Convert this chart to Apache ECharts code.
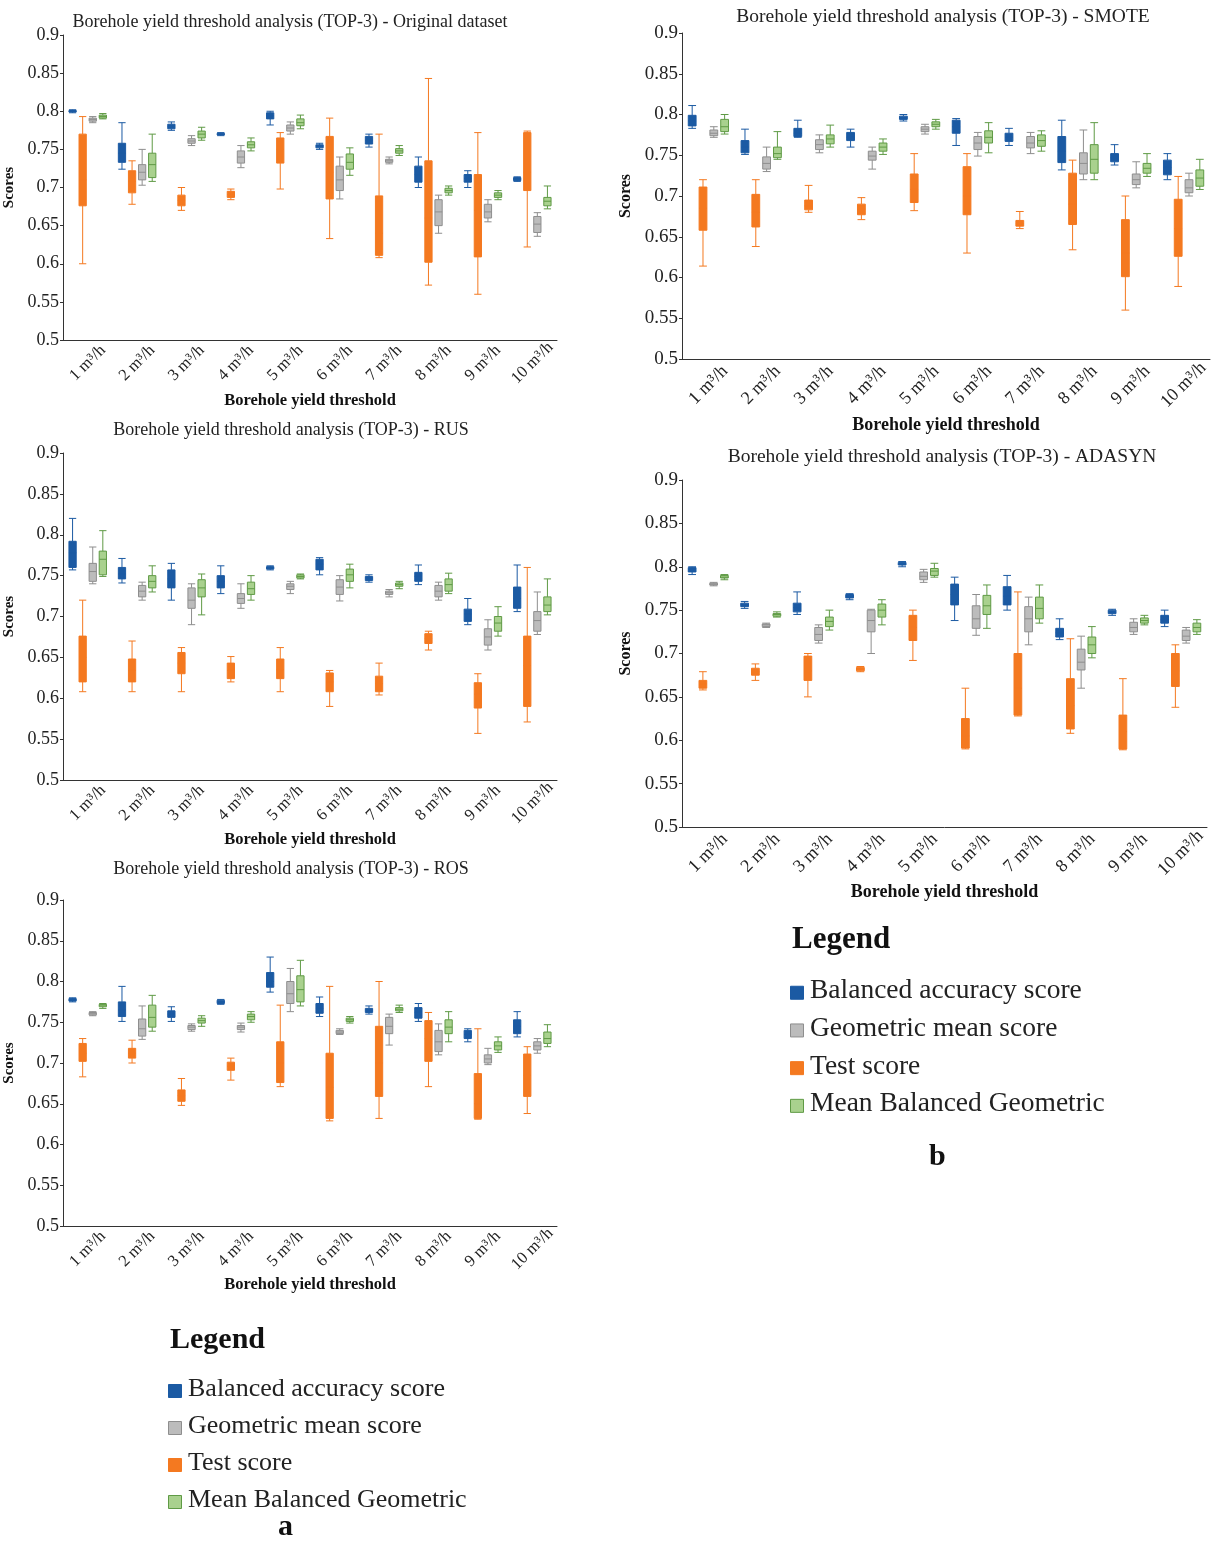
<!DOCTYPE html>
<html>
<head>
<meta charset="utf-8">
<script src="https://cdn.jsdelivr.net/npm/echarts@6/dist/echarts.min.js"></script>
<style>
  html, body { margin: 0; padding: 0; background: #fff; }
  #main { width: 1219px; height: 1542px; }
</style>
</head>
<body>
<div id="main"></div>
<script>
// 阈值类别
var categories = ['1 m³/h', '2 m³/h', '3 m³/h', '4 m³/h', '5 m³/h', '6 m³/h', '7 m³/h', '8 m³/h', '9 m³/h', '10 m³/h'];
var seriesNames = ['Balanced accuracy score', 'Test score', 'Geometric mean score', 'Mean Balanced Geometric'];

// 每个箱线: [min, Q1, median, Q3, max]
// Original dataset
var origBalanced = [[0.798,0.799,0.8,0.801,0.802],[0.724,0.733,0.745,0.758,0.785],[0.775,0.777,0.78,0.783,0.786],[0.768,0.769,0.77,0.771,0.772],[0.782,0.79,0.794,0.798,0.8],
  [0.75,0.752,0.754,0.756,0.758],[0.753,0.757,0.762,0.767,0.77],[0.7,0.707,0.717,0.728,0.74],[0.7,0.707,0.712,0.717,0.722],[0.708,0.709,0.711,0.713,0.714]];
var origTest = [[0.6,0.676,0.71,0.77,0.793],[0.678,0.693,0.708,0.722,0.735],[0.67,0.676,0.683,0.69,0.7],[0.684,0.687,0.691,0.695,0.698],[0.698,0.732,0.75,0.765,0.772],
  [0.633,0.685,0.72,0.767,0.791],[0.608,0.611,0.64,0.689,0.77],[0.572,0.602,0.66,0.735,0.843],[0.56,0.609,0.67,0.717,0.772],[0.622,0.696,0.72,0.772,0.774]];
var origGeo = [[0.785,0.787,0.789,0.791,0.793],[0.703,0.71,0.72,0.73,0.75],[0.755,0.758,0.761,0.764,0.768],[0.726,0.732,0.74,0.748,0.755],[0.77,0.774,0.778,0.782,0.786],
  [0.685,0.696,0.71,0.728,0.74],[0.731,0.733,0.735,0.737,0.74],[0.64,0.65,0.668,0.684,0.69],[0.655,0.66,0.668,0.678,0.684],[0.636,0.641,0.652,0.662,0.667]];
var origMean = [[0.79,0.791,0.793,0.795,0.797],[0.708,0.713,0.73,0.745,0.77],[0.762,0.765,0.77,0.774,0.779],[0.748,0.752,0.756,0.76,0.765],[0.777,0.781,0.785,0.79,0.795],
  [0.716,0.724,0.733,0.744,0.752],[0.742,0.745,0.748,0.751,0.755],[0.69,0.693,0.696,0.699,0.702],[0.684,0.687,0.69,0.693,0.696],[0.672,0.676,0.682,0.687,0.702]];

// SMOTE
var smoteBalanced = [[0.783,0.786,0.792,0.799,0.811],[0.751,0.753,0.76,0.768,0.782],[0.772,0.773,0.777,0.783,0.793],[0.76,0.768,0.772,0.778,0.782],[0.792,0.794,0.796,0.798,0.8],
  [0.762,0.777,0.785,0.793,0.795],[0.762,0.767,0.772,0.777,0.783],[0.732,0.741,0.755,0.773,0.793],[0.738,0.742,0.747,0.752,0.763],[0.72,0.726,0.735,0.744,0.752]];
var smoteTest = [[0.614,0.658,0.685,0.711,0.72],[0.638,0.662,0.68,0.702,0.72],[0.68,0.683,0.688,0.695,0.713],[0.671,0.677,0.684,0.69,0.698],[0.682,0.692,0.708,0.727,0.752],
  [0.63,0.677,0.7,0.736,0.752],[0.66,0.663,0.666,0.67,0.681],[0.634,0.665,0.69,0.728,0.744],[0.56,0.601,0.63,0.671,0.7],[0.589,0.626,0.66,0.696,0.724]];
var smoteGeo = [[0.772,0.774,0.777,0.781,0.785],[0.73,0.733,0.74,0.748,0.76],[0.753,0.757,0.763,0.769,0.775],[0.733,0.744,0.749,0.755,0.76],[0.776,0.779,0.782,0.785,0.788],
  [0.749,0.757,0.765,0.773,0.778],[0.752,0.759,0.765,0.773,0.778],[0.72,0.727,0.74,0.753,0.781],[0.71,0.714,0.72,0.727,0.742],[0.7,0.704,0.71,0.72,0.728]];
var smoteMean = [[0.776,0.779,0.785,0.794,0.8],[0.745,0.747,0.752,0.76,0.779],[0.76,0.764,0.77,0.775,0.787],[0.751,0.755,0.76,0.765,0.77],[0.782,0.785,0.788,0.791,0.794],
  [0.753,0.765,0.772,0.78,0.79],[0.755,0.761,0.768,0.775,0.78],[0.72,0.728,0.745,0.763,0.79],[0.724,0.728,0.734,0.74,0.752],[0.708,0.712,0.722,0.732,0.745]];

// RUS
var rusBalanced = [[0.757,0.76,0.778,0.792,0.82],[0.741,0.746,0.752,0.76,0.771],[0.72,0.735,0.746,0.757,0.765],[0.728,0.735,0.743,0.75,0.762],[0.757,0.758,0.76,0.761,0.762],
  [0.751,0.757,0.764,0.77,0.772],[0.742,0.744,0.747,0.749,0.751],[0.739,0.743,0.749,0.754,0.763],[0.69,0.694,0.703,0.709,0.722],[0.706,0.71,0.722,0.736,0.763]];
var rusTest = [[0.608,0.62,0.65,0.676,0.72],[0.608,0.62,0.634,0.648,0.67],[0.608,0.63,0.643,0.656,0.662],[0.62,0.624,0.634,0.643,0.651],[0.608,0.624,0.635,0.648,0.662],
  [0.59,0.608,0.62,0.631,0.634],[0.604,0.608,0.618,0.627,0.643],[0.659,0.667,0.673,0.679,0.682],[0.557,0.588,0.605,0.619,0.63],[0.571,0.59,0.64,0.676,0.76]];
var rusGeo = [[0.74,0.743,0.755,0.765,0.785],[0.72,0.724,0.731,0.738,0.742],[0.69,0.71,0.72,0.735,0.74],[0.71,0.716,0.722,0.728,0.74],[0.728,0.733,0.737,0.74,0.743],
  [0.719,0.727,0.736,0.745,0.75],[0.724,0.727,0.729,0.731,0.733],[0.72,0.724,0.731,0.738,0.742],[0.659,0.665,0.675,0.685,0.696],[0.678,0.682,0.695,0.706,0.73]];
var rusMean = [[0.749,0.751,0.77,0.78,0.805],[0.73,0.735,0.743,0.75,0.762],[0.702,0.724,0.735,0.745,0.752],[0.72,0.727,0.734,0.742,0.75],[0.746,0.747,0.749,0.751,0.752],
  [0.735,0.743,0.751,0.758,0.764],[0.734,0.737,0.739,0.741,0.743],[0.728,0.731,0.739,0.746,0.753],[0.676,0.682,0.692,0.7,0.712],[0.702,0.706,0.714,0.724,0.746]];

// ADASYN
var adaBalanced = [[0.791,0.794,0.797,0.799,0.8],[0.752,0.754,0.756,0.758,0.76],[0.745,0.748,0.753,0.758,0.771],[0.762,0.764,0.766,0.768,0.769],[0.8,0.802,0.803,0.805,0.806],
  [0.738,0.756,0.768,0.78,0.788],[0.75,0.756,0.766,0.777,0.79],[0.716,0.719,0.724,0.729,0.74],[0.744,0.746,0.748,0.75,0.751],[0.731,0.735,0.739,0.744,0.75]];
var adaTest = [[0.658,0.66,0.665,0.669,0.679],[0.669,0.675,0.679,0.683,0.688],[0.65,0.669,0.68,0.697,0.7],[0.679,0.68,0.682,0.684,0.685],[0.692,0.715,0.73,0.744,0.75],
  [0.59,0.591,0.605,0.625,0.66],[0.628,0.629,0.66,0.7,0.771],[0.608,0.613,0.64,0.671,0.717],[0.589,0.59,0.61,0.629,0.671],[0.638,0.662,0.68,0.7,0.71]];
var adaGeo = [[0.778,0.779,0.78,0.781,0.782],[0.73,0.731,0.733,0.734,0.735],[0.712,0.715,0.722,0.73,0.733],[0.7,0.725,0.738,0.75,0.751],[0.782,0.785,0.789,0.794,0.797],
  [0.721,0.729,0.74,0.755,0.768],[0.71,0.725,0.74,0.754,0.765],[0.66,0.681,0.69,0.705,0.72],[0.722,0.725,0.73,0.736,0.74],[0.712,0.715,0.72,0.727,0.73]];
var adaMean = [[0.785,0.787,0.788,0.79,0.791],[0.742,0.743,0.745,0.746,0.748],[0.727,0.731,0.737,0.742,0.75],[0.733,0.742,0.75,0.757,0.762],[0.788,0.79,0.795,0.798,0.804],
  [0.729,0.745,0.755,0.767,0.779],[0.735,0.74,0.752,0.765,0.779],[0.695,0.7,0.71,0.719,0.731],[0.733,0.735,0.738,0.741,0.744],[0.722,0.725,0.73,0.735,0.739]];

// ROS
var rosBalanced = [[0.775,0.776,0.778,0.779,0.78],[0.751,0.757,0.765,0.775,0.794],[0.751,0.756,0.76,0.764,0.769],[0.772,0.773,0.775,0.777,0.778],[0.787,0.793,0.8,0.811,0.83],
  [0.757,0.761,0.767,0.773,0.781],[0.76,0.762,0.765,0.767,0.77],[0.751,0.755,0.762,0.768,0.773],[0.726,0.73,0.735,0.74,0.742],[0.732,0.736,0.745,0.753,0.763]];
var rosTest = [[0.683,0.702,0.712,0.724,0.73],[0.7,0.706,0.712,0.718,0.728],[0.648,0.653,0.66,0.667,0.681],[0.679,0.691,0.696,0.701,0.706],[0.671,0.676,0.7,0.726,0.771],
  [0.629,0.632,0.67,0.712,0.794],[0.632,0.659,0.7,0.745,0.8],[0.671,0.702,0.73,0.752,0.762],[0.631,0.632,0.65,0.687,0.742],[0.638,0.659,0.685,0.711,0.72]];
var rosGeo = [[0.758,0.759,0.761,0.762,0.763],[0.729,0.733,0.742,0.754,0.77],[0.739,0.741,0.744,0.746,0.748],[0.738,0.741,0.744,0.746,0.749],[0.763,0.773,0.785,0.8,0.816],
  [0.735,0.736,0.738,0.74,0.742],[0.722,0.736,0.745,0.756,0.76],[0.71,0.714,0.726,0.74,0.748],[0.698,0.7,0.705,0.71,0.718],[0.712,0.716,0.721,0.726,0.73]];
var rosMean = [[0.767,0.769,0.771,0.772,0.773],[0.739,0.744,0.756,0.771,0.783],[0.745,0.749,0.752,0.755,0.758],[0.75,0.753,0.757,0.76,0.763],[0.77,0.775,0.79,0.807,0.826],
  [0.749,0.751,0.753,0.755,0.757],[0.762,0.764,0.766,0.768,0.771],[0.726,0.736,0.744,0.753,0.763],[0.713,0.716,0.721,0.726,0.732],[0.72,0.724,0.73,0.738,0.747]];

var colors = {
  blue:   { fill: '#1b5aa3', line: '#1b5aa3' },
  orange: { fill: '#f47920', line: '#f47920' },
  gray:   { fill: '#bcbcbc', line: '#8e8e8e' },
  green:  { fill: '#a9d18e', line: '#5f9a45' }
};
var colorOrder = ['blue', 'orange', 'gray', 'green'];

var font = 'Liberation Serif';

// 五个子图 (fs: 字号比例)
var panels = [
  { title: 'Borehole yield threshold analysis (TOP-3) - Original dataset', grid: { left: 63, top: 35, width: 494, height: 305 }, titleTop: 8, titleX: 285, nameGap: 52, big: false,
    data: [origBalanced, origTest, origGeo, origMean] },
  { title: 'Borehole yield threshold analysis (TOP-3) - SMOTE', grid: { left: 682, top: 33, width: 528, height: 326 }, titleTop: 2, titleX: 938, nameGap: 57, big: true,
    data: [smoteBalanced, smoteTest, smoteGeo, smoteMean] },
  { title: 'Borehole yield threshold analysis (TOP-3) - RUS', grid: { left: 63, top: 453, width: 494, height: 327 }, titleTop: 416, titleX: 286, nameGap: 51, big: false,
    data: [rusBalanced, rusTest, rusGeo, rusMean] },
  { title: 'Borehole yield threshold analysis (TOP-3) - ADASYN', grid: { left: 682, top: 480, width: 525, height: 347 }, titleTop: 442, titleX: 937, nameGap: 56, big: true,
    data: [adaBalanced, adaTest, adaGeo, adaMean] },
  { title: 'Borehole yield threshold analysis (TOP-3) - ROS', grid: { left: 63, top: 900, width: 494, height: 326 }, titleTop: 855, titleX: 286, nameGap: 50, big: false,
    data: [rosBalanced, rosTest, rosGeo, rosMean] }
];

var option = {
  backgroundColor: '#fff',
  animation: false,
  textStyle: { fontFamily: font },
  title: [],
  grid: [],
  xAxis: [],
  yAxis: [],
  series: [],
  graphic: []
};

panels.forEach(function (p, i) {
  option.title.push({
    text: p.title, left: p.titleX, top: p.titleTop, textAlign: 'center',
    textStyle: { fontFamily: font, fontSize: p.big ? 19.5 : 18, fontWeight: 'normal', color: '#222' }
  });
  option.grid.push(p.grid);
  option.xAxis.push({
    type: 'category', gridIndex: i, data: categories,
    name: 'Borehole yield threshold', nameLocation: 'middle', nameGap: p.nameGap,
    nameTextStyle: { fontFamily: font, fontSize: p.big ? 18 : 16.5, fontWeight: 'bold', color: '#111' },
    axisLine: { lineStyle: { color: '#333' } },
    axisTick: { lineStyle: { color: '#333' } },
    axisLabel: { rotate: 45, fontFamily: font, fontSize: p.big ? 18 : 16.5, color: '#222', interval: 0,
      align: 'center', verticalAlign: 'middle', margin: p.big ? 26 : 23 },
    splitLine: { show: false }
  });
  option.yAxis.push({
    type: 'value', gridIndex: i, min: 0.5, max: 0.9, interval: 0.05,
    name: 'Scores', nameLocation: 'middle', nameGap: p.big ? 48 : 46,
    nameTextStyle: { fontFamily: font, fontSize: p.big ? 16 : 15, fontWeight: 'bold', color: '#111' },
    axisLine: { show: true, lineStyle: { color: '#333' } },
    axisTick: { show: true, length: 3, lineStyle: { color: '#333' } },
    axisLabel: { fontFamily: font, fontSize: p.big ? 19 : 18, color: '#222', margin: 4,
      formatter: function (v) { return String(+v.toFixed(2)); } },
    splitLine: { show: false }
  });
  p.data.forEach(function (arr, k) {
    var c = colors[colorOrder[k]];
    option.series.push({
      name: seriesNames[k], type: 'boxplot', xAxisIndex: i, yAxisIndex: i,
      boxWidth: [6, 8],
      itemStyle: { color: c.fill, borderColor: c.line, borderWidth: 1 },
      data: arr
    });
  });
});

// 图例
var legendItems = [
  { text: 'Balanced accuracy score', c: colors.blue },
  { text: 'Geometric mean score', c: colors.gray },
  { text: 'Test score', c: colors.orange },
  { text: 'Mean Balanced Geometric', c: colors.green }
];
function addLegend(L) {
  option.graphic.push({ type: 'text', left: L.x, top: L.titleTop,
    style: { text: 'Legend', font: 'bold ' + L.titleSize + 'px "Liberation Serif"', fill: '#111' } });
  legendItems.forEach(function (it, j) {
    var ty = L.itemTop + j * L.gap;
    option.graphic.push({ type: 'rect', left: L.x - 2, top: ty + L.itemSize / 2 - 5, shape: { width: 13, height: 13 },
      style: { fill: it.c.fill, stroke: it.c.line, lineWidth: 1 } });
    option.graphic.push({ type: 'text', left: L.x + 18, top: ty,
      style: { text: it.text, font: L.itemSize + 'px "Liberation Serif"', fill: '#222' } });
  });
  option.graphic.push({ type: 'text', left: L.markX, top: L.markTop,
    style: { text: L.mark, font: 'bold 30px "Liberation Serif"', fill: '#111' } });
}
addLegend({ x: 170, titleTop: 1325, titleSize: 30, itemTop: 1376, itemSize: 26, gap: 37, mark: 'a', markX: 278, markTop: 1512 });
addLegend({ x: 792, titleTop: 924, titleSize: 31, itemTop: 977, itemSize: 27.5, gap: 37.7, mark: 'b', markX: 929, markTop: 1142 });

var myChart = echarts.init(document.getElementById('main'));
myChart.setOption(option);
</script>
</body>
</html>
